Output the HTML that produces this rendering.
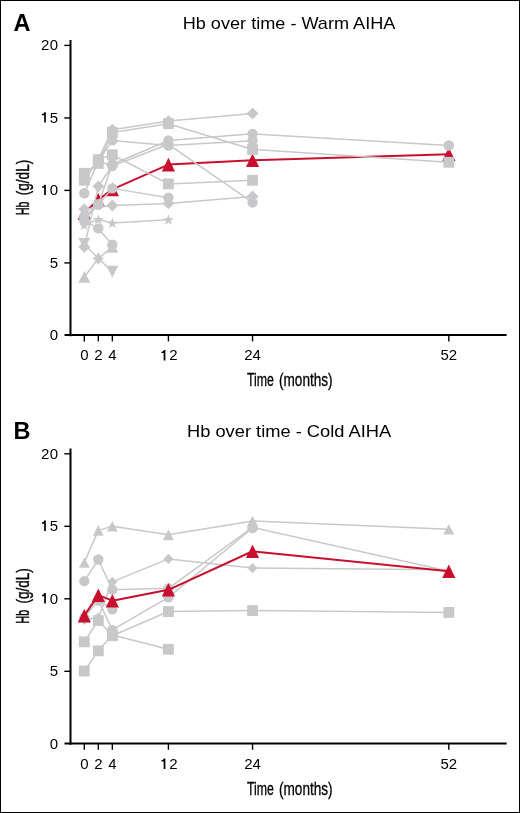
<!DOCTYPE html>
<html><head><meta charset="utf-8"><style>html,body{margin:0;padding:0;background:#fff;}svg{display:block;will-change:transform;}</style></head><body>
<svg width="520" height="813" viewBox="0 0 520 813">
<rect x="0" y="0" width="520" height="813" fill="#fff"/>
<line x1="70.5" y1="40.00" x2="70.5" y2="336.30" stroke="#000" stroke-width="2"/>
<line x1="64.5" y1="335.10" x2="506.6" y2="335.10" stroke="#000" stroke-width="2"/>
<line x1="64.3" y1="262.90" x2="70" y2="262.90" stroke="#000" stroke-width="1.4"/>
<line x1="64.3" y1="190.40" x2="70" y2="190.40" stroke="#000" stroke-width="1.4"/>
<line x1="64.3" y1="117.90" x2="70" y2="117.90" stroke="#000" stroke-width="1.4"/>
<line x1="64.3" y1="45.40" x2="70" y2="45.40" stroke="#000" stroke-width="1.4"/>
<line x1="84.30" y1="335.40" x2="84.30" y2="341.40" stroke="#000" stroke-width="1.4"/>
<line x1="98.32" y1="335.40" x2="98.32" y2="341.40" stroke="#000" stroke-width="1.4"/>
<line x1="112.34" y1="335.40" x2="112.34" y2="341.40" stroke="#000" stroke-width="1.4"/>
<line x1="168.42" y1="335.40" x2="168.42" y2="341.40" stroke="#000" stroke-width="1.4"/>
<line x1="252.54" y1="335.40" x2="252.54" y2="341.40" stroke="#000" stroke-width="1.4"/>
<line x1="448.82" y1="335.40" x2="448.82" y2="341.40" stroke="#000" stroke-width="1.4"/>
<text x="13.5" y="31.00" font-family="Liberation Sans, sans-serif" font-size="23.5" font-weight="bold" fill="#000">A</text>
<text x="182.70" y="28.80" font-family="Liberation Sans, sans-serif" font-size="17" fill="#000" textLength="212.70" lengthAdjust="spacingAndGlyphs">Hb over time - Warm AIHA</text>
<text x="58.6" y="340.10" font-family="Liberation Sans, sans-serif" font-size="15" fill="#000" text-anchor="end" letter-spacing="0.5">0</text>
<text x="58.6" y="267.60" font-family="Liberation Sans, sans-serif" font-size="15" fill="#000" text-anchor="end" letter-spacing="0.5">5</text>
<text x="58.6" y="195.10" font-family="Liberation Sans, sans-serif" font-size="15" fill="#000" text-anchor="end" letter-spacing="0.5">0</text>
<polygon points="45.85,184.70 45.85,195.05 44.15,195.05 44.15,187.80 41.95,187.80 41.95,186.50 43.45,186.20 44.25,184.70" fill="#000"/>
<text x="58.6" y="122.60" font-family="Liberation Sans, sans-serif" font-size="15" fill="#000" text-anchor="end" letter-spacing="0.5">5</text>
<polygon points="45.85,112.20 45.85,122.55 44.15,122.55 44.15,115.30 41.95,115.30 41.95,114.00 43.45,113.70 44.25,112.20" fill="#000"/>
<text x="58.6" y="50.10" font-family="Liberation Sans, sans-serif" font-size="15" fill="#000" text-anchor="end" letter-spacing="0.5">20</text>
<text x="84.30" y="360.40" font-family="Liberation Sans, sans-serif" font-size="15" fill="#000" text-anchor="middle">0</text>
<text x="98.32" y="360.40" font-family="Liberation Sans, sans-serif" font-size="15" fill="#000" text-anchor="middle">2</text>
<text x="112.34" y="360.40" font-family="Liberation Sans, sans-serif" font-size="15" fill="#000" text-anchor="middle">4</text>
<text x="169.17" y="360.40" font-family="Liberation Sans, sans-serif" font-size="15" fill="#000">2</text>
<polygon points="165.37,350.00 165.37,360.50 163.67,360.50 163.67,353.10 161.47,353.10 161.47,351.80 162.97,351.50 163.77,350.00" fill="#000"/>
<text x="252.54" y="360.40" font-family="Liberation Sans, sans-serif" font-size="15" fill="#000" text-anchor="middle">24</text>
<text x="448.82" y="360.40" font-family="Liberation Sans, sans-serif" font-size="15" fill="#000" text-anchor="middle">52</text>
<text x="247.0" y="386.40" font-family="Liberation Sans, sans-serif" font-size="18" fill="#000" stroke="#000" stroke-width="0.3" textLength="27.0" lengthAdjust="spacingAndGlyphs">Time</text>
<text x="279.0" y="386.40" font-family="Liberation Sans, sans-serif" font-size="18" fill="#000" stroke="#000" stroke-width="0.3" textLength="53.6" lengthAdjust="spacingAndGlyphs">(months)</text>
<text transform="translate(29.4,215.00) rotate(-90)" font-family="Liberation Sans, sans-serif" font-size="18" fill="#000" stroke="#000" stroke-width="0.4" textLength="13.4" lengthAdjust="spacingAndGlyphs">Hb</text>
<text transform="translate(29.4,195.20) rotate(-90)" font-family="Liberation Sans, sans-serif" font-size="18" fill="#000" stroke="#000" stroke-width="0.4" textLength="35.4" lengthAdjust="spacingAndGlyphs">(g/dL)</text>
<line x1="70.5" y1="448.40" x2="70.5" y2="744.70" stroke="#000" stroke-width="2"/>
<line x1="64.5" y1="743.50" x2="506.6" y2="743.50" stroke="#000" stroke-width="2"/>
<line x1="64.3" y1="671.30" x2="70" y2="671.30" stroke="#000" stroke-width="1.4"/>
<line x1="64.3" y1="598.80" x2="70" y2="598.80" stroke="#000" stroke-width="1.4"/>
<line x1="64.3" y1="526.30" x2="70" y2="526.30" stroke="#000" stroke-width="1.4"/>
<line x1="64.3" y1="453.80" x2="70" y2="453.80" stroke="#000" stroke-width="1.4"/>
<line x1="84.30" y1="743.80" x2="84.30" y2="749.80" stroke="#000" stroke-width="1.4"/>
<line x1="98.32" y1="743.80" x2="98.32" y2="749.80" stroke="#000" stroke-width="1.4"/>
<line x1="112.34" y1="743.80" x2="112.34" y2="749.80" stroke="#000" stroke-width="1.4"/>
<line x1="168.42" y1="743.80" x2="168.42" y2="749.80" stroke="#000" stroke-width="1.4"/>
<line x1="252.54" y1="743.80" x2="252.54" y2="749.80" stroke="#000" stroke-width="1.4"/>
<line x1="448.82" y1="743.80" x2="448.82" y2="749.80" stroke="#000" stroke-width="1.4"/>
<text x="13.4" y="438.60" font-family="Liberation Sans, sans-serif" font-size="23.5" font-weight="bold" fill="#000">B</text>
<text x="187.00" y="437.20" font-family="Liberation Sans, sans-serif" font-size="17" fill="#000" textLength="204.10" lengthAdjust="spacingAndGlyphs">Hb over time - Cold AIHA</text>
<text x="58.6" y="748.50" font-family="Liberation Sans, sans-serif" font-size="15" fill="#000" text-anchor="end" letter-spacing="0.5">0</text>
<text x="58.6" y="676.00" font-family="Liberation Sans, sans-serif" font-size="15" fill="#000" text-anchor="end" letter-spacing="0.5">5</text>
<text x="58.6" y="603.50" font-family="Liberation Sans, sans-serif" font-size="15" fill="#000" text-anchor="end" letter-spacing="0.5">0</text>
<polygon points="45.85,593.10 45.85,603.45 44.15,603.45 44.15,596.20 41.95,596.20 41.95,594.90 43.45,594.60 44.25,593.10" fill="#000"/>
<text x="58.6" y="531.00" font-family="Liberation Sans, sans-serif" font-size="15" fill="#000" text-anchor="end" letter-spacing="0.5">5</text>
<polygon points="45.85,520.60 45.85,530.95 44.15,530.95 44.15,523.70 41.95,523.70 41.95,522.40 43.45,522.10 44.25,520.60" fill="#000"/>
<text x="58.6" y="458.50" font-family="Liberation Sans, sans-serif" font-size="15" fill="#000" text-anchor="end" letter-spacing="0.5">20</text>
<text x="84.30" y="768.80" font-family="Liberation Sans, sans-serif" font-size="15" fill="#000" text-anchor="middle">0</text>
<text x="98.32" y="768.80" font-family="Liberation Sans, sans-serif" font-size="15" fill="#000" text-anchor="middle">2</text>
<text x="112.34" y="768.80" font-family="Liberation Sans, sans-serif" font-size="15" fill="#000" text-anchor="middle">4</text>
<text x="169.17" y="768.80" font-family="Liberation Sans, sans-serif" font-size="15" fill="#000">2</text>
<polygon points="165.37,758.40 165.37,768.90 163.67,768.90 163.67,761.50 161.47,761.50 161.47,760.20 162.97,759.90 163.77,758.40" fill="#000"/>
<text x="252.54" y="768.80" font-family="Liberation Sans, sans-serif" font-size="15" fill="#000" text-anchor="middle">24</text>
<text x="448.82" y="768.80" font-family="Liberation Sans, sans-serif" font-size="15" fill="#000" text-anchor="middle">52</text>
<text x="247.0" y="794.80" font-family="Liberation Sans, sans-serif" font-size="18" fill="#000" stroke="#000" stroke-width="0.3" textLength="27.0" lengthAdjust="spacingAndGlyphs">Time</text>
<text x="279.0" y="794.80" font-family="Liberation Sans, sans-serif" font-size="18" fill="#000" stroke="#000" stroke-width="0.3" textLength="53.6" lengthAdjust="spacingAndGlyphs">(months)</text>
<text transform="translate(29.4,623.40) rotate(-90)" font-family="Liberation Sans, sans-serif" font-size="18" fill="#000" stroke="#000" stroke-width="0.4" textLength="13.4" lengthAdjust="spacingAndGlyphs">Hb</text>
<text transform="translate(29.4,603.60) rotate(-90)" font-family="Liberation Sans, sans-serif" font-size="18" fill="#000" stroke="#000" stroke-width="0.4" textLength="35.4" lengthAdjust="spacingAndGlyphs">(g/dL)</text>
<path d="M84.30,212.88 L98.32,199.82 L112.34,189.38 L168.42,164.59 L252.54,160.24 L448.82,154.15" fill="none" stroke="#c8102e" stroke-width="2.0" stroke-linejoin="round"/>
<polygon points="84.30,206.07 90.90,219.68 77.70,219.68" fill="#c8102e"/>
<polygon points="98.32,193.02 104.92,206.62 91.72,206.62" fill="#c8102e"/>
<polygon points="112.34,182.58 118.94,196.18 105.74,196.18" fill="#c8102e"/>
<polygon points="168.42,157.79 175.02,171.39 161.82,171.39" fill="#c8102e"/>
<polygon points="252.54,153.44 259.14,167.04 245.94,167.04" fill="#c8102e"/>
<polygon points="448.82,147.35 455.42,160.95 442.22,160.95" fill="#c8102e"/>
<path d="M84.30,177.35 L98.32,161.40 L112.34,166.04 L168.42,144.29 L252.54,202.43" fill="none" stroke="#c8c8cb" stroke-width="1.5" stroke-linejoin="round"/>
<path d="M84.30,193.30 L98.32,161.40 L112.34,140.38 L168.42,145.45 L252.54,140.66" fill="none" stroke="#c8c8cb" stroke-width="1.5" stroke-linejoin="round"/>
<path d="M84.30,178.07 L98.32,159.66 L112.34,129.64 L168.42,121.09 L252.54,113.55" fill="none" stroke="#c8c8cb" stroke-width="1.5" stroke-linejoin="round"/>
<path d="M84.30,173.29 L98.32,163.43 L112.34,132.40 L168.42,123.70 L252.54,149.51 L448.82,162.27" fill="none" stroke="#c8c8cb" stroke-width="1.5" stroke-linejoin="round"/>
<path d="M84.30,180.25 L98.32,159.66 L112.34,154.73 L168.42,183.88 L252.54,180.25" fill="none" stroke="#c8c8cb" stroke-width="1.5" stroke-linejoin="round"/>
<path d="M84.30,246.95 L98.32,186.34 L112.34,165.46" fill="none" stroke="#c8c8cb" stroke-width="1.5" stroke-linejoin="round"/>
<path d="M84.30,216.50 L98.32,204.46 L112.34,164.30 L168.42,140.52 L252.54,133.85 L448.82,145.45" fill="none" stroke="#c8c8cb" stroke-width="1.5" stroke-linejoin="round"/>
<path d="M84.30,219.40 L98.32,204.46 L112.34,188.37 L168.42,197.65" fill="none" stroke="#c8c8cb" stroke-width="1.5" stroke-linejoin="round"/>
<path d="M84.30,209.25 L112.34,205.48 L168.42,203.45 L252.54,196.49" fill="none" stroke="#c8c8cb" stroke-width="1.5" stroke-linejoin="round"/>
<path d="M84.30,225.20 L98.32,219.40 L112.34,223.02 L168.42,219.69" fill="none" stroke="#c8c8cb" stroke-width="1.5" stroke-linejoin="round"/>
<path d="M84.30,276.96 L98.32,258.55 L112.34,246.95" fill="none" stroke="#c8c8cb" stroke-width="1.5" stroke-linejoin="round"/>
<path d="M84.30,220.85 L98.32,228.39 L112.34,244.77" fill="none" stroke="#c8c8cb" stroke-width="1.5" stroke-linejoin="round"/>
<path d="M84.30,243.76 L98.32,258.55 L112.34,271.60" fill="none" stroke="#c8c8cb" stroke-width="1.5" stroke-linejoin="round"/>
<path d="M98.32,258.55" fill="none" stroke="#c8c8cb" stroke-width="1.5" stroke-linejoin="round"/>
<circle cx="84.30" cy="177.35" r="5.20" fill="#c8c8cb"/>
<circle cx="98.32" cy="161.40" r="5.20" fill="#c8c8cb"/>
<circle cx="112.34" cy="166.04" r="5.20" fill="#c8c8cb"/>
<circle cx="168.42" cy="144.29" r="5.20" fill="#c8c8cb"/>
<circle cx="252.54" cy="202.43" r="5.20" fill="#c8c8cb"/>
<circle cx="84.30" cy="193.30" r="5.20" fill="#c8c8cb"/>
<circle cx="98.32" cy="161.40" r="5.20" fill="#c8c8cb"/>
<circle cx="112.34" cy="140.38" r="5.20" fill="#c8c8cb"/>
<circle cx="168.42" cy="145.45" r="5.20" fill="#c8c8cb"/>
<circle cx="252.54" cy="140.66" r="5.20" fill="#c8c8cb"/>
<polygon points="84.30,172.17 90.20,178.07 84.30,183.97 78.40,178.07" fill="#c8c8cb"/>
<polygon points="98.32,153.76 104.22,159.66 98.32,165.56 92.42,159.66" fill="#c8c8cb"/>
<polygon points="112.34,123.74 118.24,129.64 112.34,135.54 106.44,129.64" fill="#c8c8cb"/>
<polygon points="168.42,115.19 174.32,121.09 168.42,126.99 162.52,121.09" fill="#c8c8cb"/>
<polygon points="252.54,107.65 258.44,113.55 252.54,119.45 246.64,113.55" fill="#c8c8cb"/>
<rect x="78.90" y="167.89" width="10.80" height="10.80" fill="#c8c8cb"/>
<rect x="92.92" y="158.03" width="10.80" height="10.80" fill="#c8c8cb"/>
<rect x="106.94" y="127.00" width="10.80" height="10.80" fill="#c8c8cb"/>
<rect x="163.02" y="118.30" width="10.80" height="10.80" fill="#c8c8cb"/>
<rect x="247.14" y="144.11" width="10.80" height="10.80" fill="#c8c8cb"/>
<rect x="443.42" y="156.87" width="10.80" height="10.80" fill="#c8c8cb"/>
<rect x="78.90" y="174.85" width="10.80" height="10.80" fill="#c8c8cb"/>
<rect x="92.92" y="154.26" width="10.80" height="10.80" fill="#c8c8cb"/>
<rect x="106.94" y="149.33" width="10.80" height="10.80" fill="#c8c8cb"/>
<rect x="163.02" y="178.47" width="10.80" height="10.80" fill="#c8c8cb"/>
<rect x="247.14" y="174.85" width="10.80" height="10.80" fill="#c8c8cb"/>
<polygon points="84.30,241.05 90.20,246.95 84.30,252.85 78.40,246.95" fill="#c8c8cb"/>
<polygon points="98.32,180.44 104.22,186.34 98.32,192.24 92.42,186.34" fill="#c8c8cb"/>
<polygon points="112.34,159.56 118.24,165.46 112.34,171.36 106.44,165.46" fill="#c8c8cb"/>
<circle cx="84.30" cy="216.50" r="5.20" fill="#c8c8cb"/>
<circle cx="98.32" cy="204.46" r="5.20" fill="#c8c8cb"/>
<circle cx="112.34" cy="164.30" r="5.20" fill="#c8c8cb"/>
<circle cx="168.42" cy="140.52" r="5.20" fill="#c8c8cb"/>
<circle cx="252.54" cy="133.85" r="5.20" fill="#c8c8cb"/>
<circle cx="448.82" cy="145.45" r="5.20" fill="#c8c8cb"/>
<circle cx="84.30" cy="219.40" r="5.20" fill="#c8c8cb"/>
<circle cx="98.32" cy="204.46" r="5.20" fill="#c8c8cb"/>
<circle cx="112.34" cy="188.37" r="5.20" fill="#c8c8cb"/>
<circle cx="168.42" cy="197.65" r="5.20" fill="#c8c8cb"/>
<polygon points="84.30,203.35 90.20,209.25 84.30,215.15 78.40,209.25" fill="#c8c8cb"/>
<polygon points="112.34,199.58 118.24,205.48 112.34,211.38 106.44,205.48" fill="#c8c8cb"/>
<polygon points="168.42,197.55 174.32,203.45 168.42,209.35 162.52,203.45" fill="#c8c8cb"/>
<polygon points="252.54,190.59 258.44,196.49 252.54,202.39 246.64,196.49" fill="#c8c8cb"/>
<polygon points="84.30,219.80 85.65,223.74 89.82,223.81 86.49,226.31 87.71,230.29 84.30,227.90 80.89,230.29 82.11,226.31 78.78,223.81 82.95,223.74" fill="#c8c8cb"/>
<polygon points="98.32,214.00 99.67,217.94 103.84,218.01 100.51,220.51 101.73,224.49 98.32,222.10 94.91,224.49 96.13,220.51 92.80,218.01 96.97,217.94" fill="#c8c8cb"/>
<polygon points="112.34,217.62 113.69,221.56 117.86,221.63 114.53,224.14 115.75,228.12 112.34,225.72 108.93,228.12 110.15,224.14 106.82,221.63 110.99,221.56" fill="#c8c8cb"/>
<polygon points="168.42,214.29 169.77,218.23 173.94,218.30 170.61,220.80 171.83,224.78 168.42,222.39 165.01,224.78 166.23,220.80 162.90,218.30 167.07,218.23" fill="#c8c8cb"/>
<polygon points="84.30,271.16 90.30,282.76 78.30,282.76" fill="#c8c8cb"/>
<polygon points="112.34,241.15 118.34,252.75 106.34,252.75" fill="#c8c8cb"/>
<circle cx="84.30" cy="220.85" r="5.20" fill="#c8c8cb"/>
<circle cx="98.32" cy="228.39" r="5.20" fill="#c8c8cb"/>
<circle cx="112.34" cy="244.77" r="5.20" fill="#c8c8cb"/>
<polygon points="84.30,249.56 90.30,237.96 78.30,237.96" fill="#c8c8cb"/>
<polygon points="112.34,277.40 118.34,265.80 106.34,265.80" fill="#c8c8cb"/>
<polygon points="98.32,252.25 100.79,256.08 103.72,258.55 100.79,261.02 98.32,264.85 95.85,261.02 92.92,258.55 95.85,256.08" fill="#c8c8cb"/>
<path d="M84.30,562.55 L98.32,530.36 L112.34,526.30 L168.42,534.86 L252.54,520.93 L448.82,529.20" fill="none" stroke="#c8c8cb" stroke-width="1.5" stroke-linejoin="round"/>
<path d="M84.30,581.11 L98.32,559.50 L112.34,589.66 L168.42,588.36 L252.54,527.46 L448.82,571.25" fill="none" stroke="#c8c8cb" stroke-width="1.5" stroke-linejoin="round"/>
<path d="M84.30,619.82 L98.32,617.65 L112.34,581.83 L168.42,558.92 L252.54,568.06 L448.82,569.80" fill="none" stroke="#c8c8cb" stroke-width="1.5" stroke-linejoin="round"/>
<path d="M84.30,617.65 L98.32,600.25 L112.34,609.24" fill="none" stroke="#c8c8cb" stroke-width="1.5" stroke-linejoin="round"/>
<path d="M98.32,600.25 L112.34,629.83 L168.42,597.35 L252.54,528.04" fill="none" stroke="#c8c8cb" stroke-width="1.5" stroke-linejoin="round"/>
<path d="M84.30,641.87 L98.32,620.55 L112.34,635.77 L168.42,611.56 L252.54,610.54 L448.82,612.43" fill="none" stroke="#c8c8cb" stroke-width="1.5" stroke-linejoin="round"/>
<path d="M84.30,671.01 L98.32,650.85 L112.34,635.05 L168.42,649.26" fill="none" stroke="#c8c8cb" stroke-width="1.5" stroke-linejoin="round"/>
<polygon points="84.30,557.25 89.70,567.85 78.90,567.85" fill="#c8c8cb"/>
<polygon points="98.32,525.06 103.72,535.66 92.92,535.66" fill="#c8c8cb"/>
<polygon points="112.34,521.00 117.74,531.60 106.94,531.60" fill="#c8c8cb"/>
<polygon points="168.42,529.56 173.82,540.15 163.02,540.15" fill="#c8c8cb"/>
<polygon points="252.54,515.63 257.94,526.23 247.14,526.23" fill="#c8c8cb"/>
<polygon points="448.82,523.90 454.22,534.50 443.42,534.50" fill="#c8c8cb"/>
<circle cx="84.30" cy="581.11" r="5.20" fill="#c8c8cb"/>
<circle cx="98.32" cy="559.50" r="5.20" fill="#c8c8cb"/>
<circle cx="112.34" cy="589.66" r="5.20" fill="#c8c8cb"/>
<circle cx="168.42" cy="588.36" r="5.20" fill="#c8c8cb"/>
<circle cx="252.54" cy="527.46" r="5.20" fill="#c8c8cb"/>
<polygon points="84.30,614.72 89.40,619.82 84.30,624.92 79.20,619.82" fill="#c8c8cb"/>
<polygon points="98.32,612.55 103.42,617.65 98.32,622.75 93.22,617.65" fill="#c8c8cb"/>
<polygon points="112.34,576.73 117.44,581.83 112.34,586.93 107.24,581.83" fill="#c8c8cb"/>
<polygon points="168.42,553.82 173.52,558.92 168.42,564.02 163.32,558.92" fill="#c8c8cb"/>
<polygon points="252.54,562.96 257.64,568.06 252.54,573.16 247.44,568.06" fill="#c8c8cb"/>
<circle cx="84.30" cy="617.65" r="5.20" fill="#c8c8cb"/>
<circle cx="98.32" cy="600.25" r="5.20" fill="#c8c8cb"/>
<circle cx="112.34" cy="609.24" r="5.20" fill="#c8c8cb"/>
<circle cx="98.32" cy="600.25" r="5.20" fill="#c8c8cb"/>
<circle cx="112.34" cy="629.83" r="5.20" fill="#c8c8cb"/>
<circle cx="168.42" cy="597.35" r="5.20" fill="#c8c8cb"/>
<circle cx="252.54" cy="528.04" r="5.20" fill="#c8c8cb"/>
<rect x="78.90" y="636.47" width="10.80" height="10.80" fill="#c8c8cb"/>
<rect x="92.92" y="615.15" width="10.80" height="10.80" fill="#c8c8cb"/>
<rect x="106.94" y="630.38" width="10.80" height="10.80" fill="#c8c8cb"/>
<rect x="163.02" y="606.16" width="10.80" height="10.80" fill="#c8c8cb"/>
<rect x="247.14" y="605.14" width="10.80" height="10.80" fill="#c8c8cb"/>
<rect x="443.42" y="607.03" width="10.80" height="10.80" fill="#c8c8cb"/>
<rect x="78.90" y="665.61" width="10.80" height="10.80" fill="#c8c8cb"/>
<rect x="92.92" y="645.45" width="10.80" height="10.80" fill="#c8c8cb"/>
<rect x="106.94" y="629.65" width="10.80" height="10.80" fill="#c8c8cb"/>
<rect x="163.02" y="643.86" width="10.80" height="10.80" fill="#c8c8cb"/>
<path d="M84.30,615.62 L98.32,595.17 L112.34,600.68 L168.42,589.81 L252.54,551.24 L448.82,571.25" fill="none" stroke="#c8102e" stroke-width="2.0" stroke-linejoin="round"/>
<polygon points="84.30,608.82 90.90,622.42 77.70,622.42" fill="#c8102e"/>
<polygon points="98.32,588.38 104.92,601.97 91.72,601.97" fill="#c8102e"/>
<polygon points="112.34,593.88 118.94,607.48 105.74,607.48" fill="#c8102e"/>
<polygon points="168.42,583.01 175.02,596.61 161.82,596.61" fill="#c8102e"/>
<polygon points="252.54,544.44 259.14,558.04 245.94,558.04" fill="#c8102e"/>
<polygon points="448.82,564.45 455.42,578.05 442.22,578.05" fill="#c8102e"/>
<rect x="0.5" y="0.5" width="519" height="812" fill="none" stroke="#000" stroke-width="1"/>
</svg>
</body></html>
